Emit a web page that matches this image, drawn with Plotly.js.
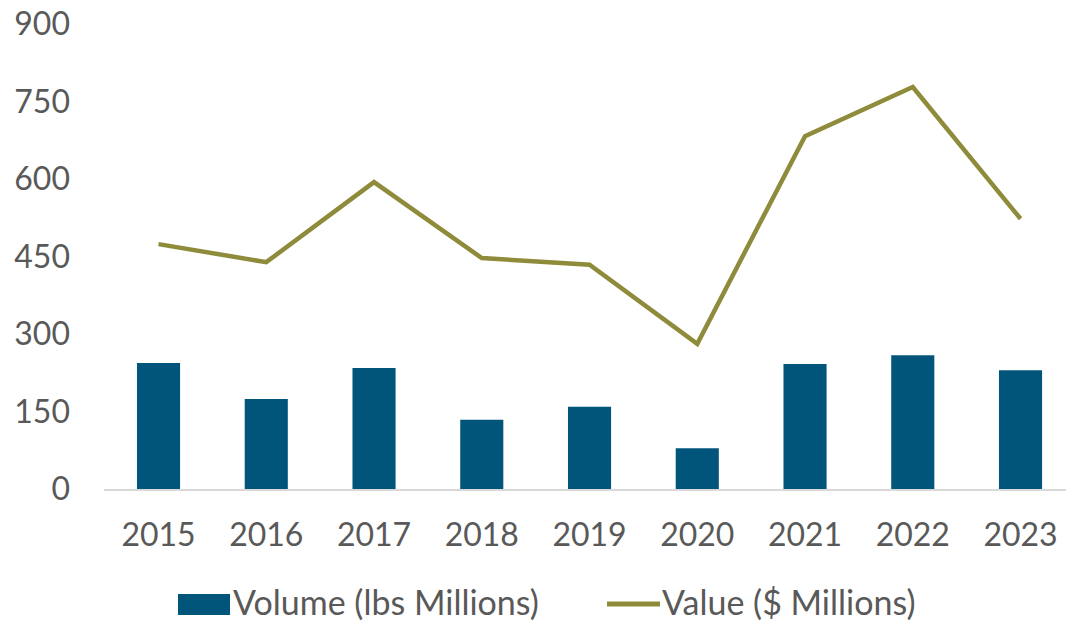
<!DOCTYPE html>
<html><head><meta charset="utf-8">
<script src="https://cdn.plot.ly/plotly-3.0.1.min.js"></script>
<style>html,body{margin:0;padding:0;background:#fff}#chart{width:1066px;height:625px}</style>
</head><body><div id="chart"></div>
<script>
const years = ['2015','2016','2017','2018','2019','2020','2021','2022','2023'];
const volume = [244, 174, 234, 134, 159, 79, 242, 259, 230];
const value = [474, 439, 594, 447, 434, 281, 683, 778, 523];
const yTicks = [0,150,300,450,600,750,900];
const seriesNames = ['Volume (lbs Millions)', 'Value ($ Millions)'];
const barColor = '#02557A';
const lineColor = '#8E8B3B';

const font = {family: 'Lato, "Open Sans", sans-serif', size: 32, color: '#595959'};
const legendFont = {family: 'Lato, "Open Sans", sans-serif', size: 34, color: '#595959'};
const data = [
  {type:'bar', x: years, y: volume, name:seriesNames[0], marker:{color:barColor}, showlegend:false},
  {type:'scatter', mode:'lines', x: years, y: value, name:seriesNames[1], line:{color:lineColor, width:4.5}, showlegend:false}
];
const layout = {
  width:1066, height:625, paper_bgcolor:'#fff', plot_bgcolor:'#fff',
  margin:{l:104, r:0, t:24, b:136},
  font: font, bargap:0.6,
  xaxis:{type:'category', range:[-0.506, 8.422], showgrid:false, showline:true, linecolor:'#d9d9d9', linewidth:2, ticks:'', ticklabelstandoff:17, tickfont:font},
  yaxis:{range:[0,900], tickvals:yTicks, showgrid:false, zeroline:false, showline:false, ticklabelstandoff:33, tickfont:font},
  shapes:[
    {type:'rect', xref:'paper', yref:'paper', x0:0.0769, x1:0.1310, y0:-0.2710, y1:-0.2258, fillcolor:barColor, line:{width:0}},
    {type:'line', xref:'paper', yref:'paper', x0:0.5229, x1:0.5780, y0:-0.2473, y1:-0.2473, line:{color:lineColor, width:5}}
  ],
  annotations:[
    {xref:'paper', yref:'paper', x:0.1330, y:-0.2430, xanchor:'left', yanchor:'middle', text:seriesNames[0], showarrow:false, font:legendFont, borderpad:0},
    {xref:'paper', yref:'paper', x:0.5790, y:-0.2430, xanchor:'left', yanchor:'middle', text:seriesNames[1], showarrow:false, font:legendFont, borderpad:0}
  ]
};
Plotly.newPlot('chart', data, layout, {staticPlot:true});
</script></body></html>
